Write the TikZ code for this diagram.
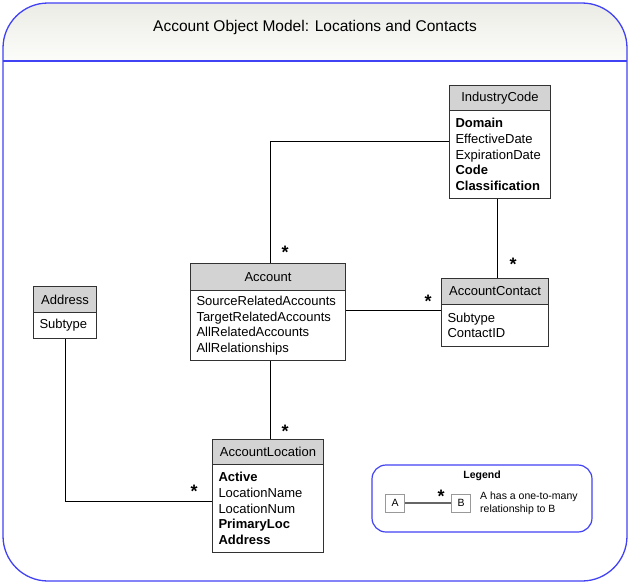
\documentclass[tikz,border=0pt]{standalone}
\usepackage{fontspec}
\setmainfont{Liberation Sans}
\definecolor{frameblue}{RGB}{66,66,245}
\definecolor{hdrgray}{RGB}{211,211,211}
\definecolor{boxline}{RGB}{50,50,50}
\definecolor{bandtop}{RGB}{236,236,230}
\definecolor{bandbot}{RGB}{252,252,250}
\begin{document}
\begin{tikzpicture}[x=1pt,y=-1pt,
  hdr/.style={draw=boxline, fill=hdrgray, line width=1pt, anchor=north west, inner sep=0pt, font=\fontsize{13}{14}\selectfont},
  bdy/.style={draw=boxline, fill=white, line width=1pt, anchor=north west, inner xsep=6pt, inner ysep=0pt, align=left, font=\fontsize{13}{15.6}\selectfont},
  conn/.style={draw=black, line width=0.8pt},
  mult/.style={font=\fontsize{18}{18}\selectfont\bfseries, inner sep=0pt, anchor=base},
  lbox/.style={draw=black!40, fill=white, line width=0.7pt, minimum width=19pt, minimum height=18pt, inner sep=0pt, font=\fontsize{10.5}{11}\selectfont}
]
\useasboundingbox (0,0) rectangle (631,584);
% outer frame with title band
\begin{scope}
  \clip[rounded corners=45pt] (3,3) rectangle (627,581);
  \shade[top color=bandtop, bottom color=bandbot] (3,3) rectangle (627,61);
\end{scope}
\draw[frameblue, line width=1.3pt, rounded corners=45pt] (3,3) rectangle (627,581);
\draw[frameblue, line width=1.3pt] (3,61) -- (627,61);
\node[font=\fontsize{15.5}{17}\selectfont] (title) at (315,27) {Account Object Model: Locations and Contacts};

% IndustryCode
\node[hdr, minimum width=101pt, minimum height=25pt] (ich) at (449,85) {IndustryCode};
\node[bdy, text width=89pt, minimum height=88pt] (icb) at (449,110)
  {\textbf{Domain}\\EffectiveDate\\ExpirationDate\\\textbf{Code}\\\textbf{Classification}};

% Account
\node[hdr, minimum width=155pt, minimum height=27pt] (acch) at (190,263) {Account};
\node[bdy, text width=143pt, minimum height=70pt] (accb) at (190,290)
  {SourceRelatedAccounts\\TargetRelatedAccounts\\AllRelatedAccounts\\AllRelationships};

% AccountContact
\node[hdr, minimum width=107pt, minimum height=26pt] (ach) at (441,278) {AccountContact};
\node[bdy, text width=95pt, minimum height=42pt] (acb) at (441,304)
  {Subtype\\ContactID};

% Address
\node[hdr, minimum width=63pt, minimum height=26pt] (adh) at (33,286) {Address};
\node[bdy, text width=51pt, minimum height=26pt] (adb) at (33,312) {Subtype};

% AccountLocation
\node[hdr, minimum width=111pt, minimum height=25pt] (alh) at (212,439) {AccountLocation};
\node[bdy, text width=99pt, minimum height=88pt] (alb) at (212,464)
  {\textbf{Active}\\LocationName\\LocationNum\\\textbf{PrimaryLoc}\\\textbf{Address}};

% connectors
\draw[conn] ([xshift=2.5pt]acch.north) |- ([yshift=13pt]icb.west);
\draw[conn] ([xshift=-2.5pt]icb.south) -- ([xshift=2.5pt]ach.north);
\draw[conn] ([yshift=15pt]accb.east) -- ([yshift=15pt]acb.west);
\draw[conn] ([xshift=2.5pt]accb.south) -- ([xshift=2.5pt]alh.north);
\draw[conn] (adb.south) |- ([yshift=7pt]alb.west);

% multiplicities
\node[mult] (s1) at (285,258) {*};
\node[mult] (s2) at (513,270) {*};
\node[mult] (s3) at (428,307) {*};
\node[mult] (s4) at (285,437) {*};
\node[mult] (s5) at (194,497) {*};

% legend
\draw[frameblue, line width=1.2pt, rounded corners=14pt] (372,465) rectangle (592,532);
\node[font=\fontsize{10.5}{11}\selectfont\bfseries] (legt) at (482,476) {Legend};
\node[lbox] (la) at (395,503) {A};
\node[lbox] (lb) at (461,503) {B};
\draw[draw=black!60, line width=1.2pt] (la) -- (lb);
\node[mult] (s6) at (441,502) {*};
\node[anchor=west, align=left, inner sep=0pt, font=\fontsize{10.5}{13}\selectfont] (ltext) at (480,503) {A has a one-to-many\\relationship to B};
\end{tikzpicture}
\end{document}
